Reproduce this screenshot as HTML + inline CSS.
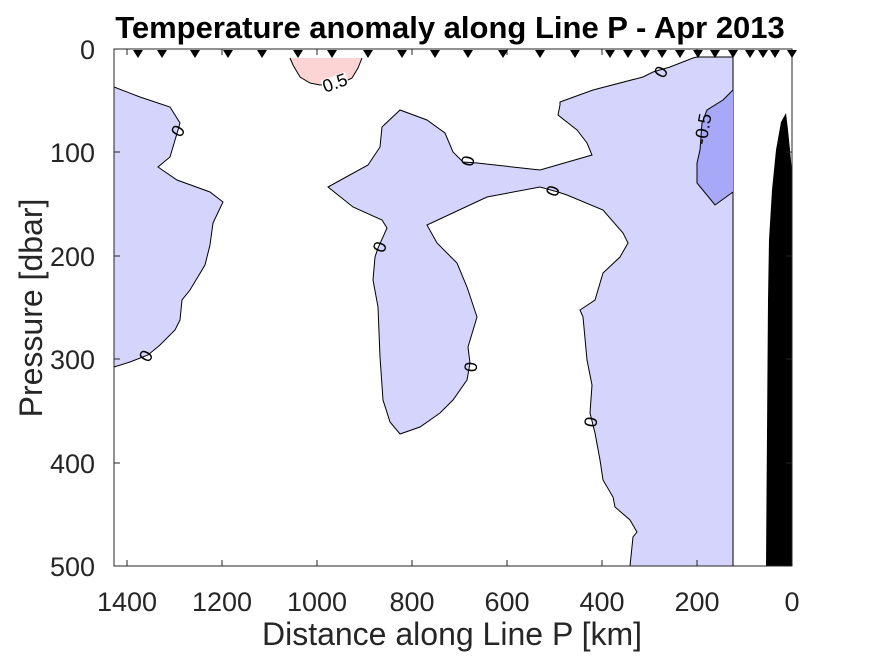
<!DOCTYPE html>
<html><head><style>body{margin:0;background:#fff}svg{display:block}</style></head><body>
<svg width="875" height="656" viewBox="0 0 875 656" xmlns="http://www.w3.org/2000/svg" font-family="Liberation Sans, sans-serif">
<rect width="875" height="656" fill="#fff"/>
<path fill="#d4d4fc" stroke="#000" stroke-width="1" d="M328,187 L353,207 L382,220 L387,228 L378,248 L375,257 L373,280 L378,307 L380,357 L383,400 L390,422 L400,434 L420,427 L440,413 L453,400 L467,380 L470,363 L468,347 L477,317 L467,287 L457,263 L437,243 L427,225 L487,197 L540,187 L558,192 L567,195 L603,210 L623,233 L628,243 L620,257 L603,273 L595,300 L580,310 L583,317 L587,360 L592,385 L590,413 L595,433 L600,460 L603,480 L613,497 L615,507 L630,520 L637,532 L633,537 L630,566 L733,566 L733,57 L697,57 L693,58 L670,67 L653,72 L643,77 L593,90 L560,102 L560,105 L558,115 L577,130 L587,143 L592,155 L540,170 L477,163 L463,162 L453,152 L445,133 L427,120 L400,110 L382,127 L380,147 L368,165 Z"/>
<path fill="#d4d4fc" stroke="#000" stroke-width="1" d="M114,87 L140,97 L170,107 L180,123 L178,130 L170,157 L158,167 L177,180 L210,192 L223,202 L213,223 L210,245 L205,265 L190,290 L182,300 L180,320 L175,330 L160,345 L148,355 L130,362 L114,367"/>
<path fill="#a8a8f8" stroke="#000" stroke-width="1" d="M733,90 L723,100 L707,110 L702,123 L700,150 L697,163 L697,183 L715,205 L733,192"/>
<path fill="#fcd4d4" stroke="#000" stroke-width="1" d="M290,58 L293,65 L300,77 L310,83 L320,85 L340,84 L352,78 L358,68 L362,58"/>
<path fill="#000" d="M766,566 L768,300 L769,240 L772,190 L776,150 L781,122 L786,113 L788,130 L790,150 L792,172 L792,566 Z"/>
<g font-size="18" fill="#000" text-anchor="middle">
<text transform="translate(178,131) rotate(-60)" y="6">0</text>
<text transform="translate(146,356) rotate(-60)" y="6">0</text>
<g transform="translate(335,83) rotate(-20)"><rect x="-13" y="-7" width="26" height="13" fill="#fff"/><text y="6">0.5</text></g>
<text transform="translate(661,72) rotate(-60)" y="6">0</text>
<text transform="translate(703,129) rotate(-80)" y="6">-0.5</text>
<text transform="translate(468,161) rotate(-75)" y="6">0</text>
<text transform="translate(553,191) rotate(-70)" y="6">0</text>
<text transform="translate(380,247) rotate(-70)" y="6">0</text>
<text transform="translate(471,367) rotate(-85)" y="6">0</text>
<text transform="translate(591,422) rotate(-80)" y="6">0</text>
</g>
<rect x="114" y="49" width="678" height="517" fill="none" stroke="#262626" stroke-width="1"/>
<g stroke="#262626" stroke-width="1">
<line x1="127" y1="566" x2="127" y2="560"/><line x1="222" y1="566" x2="222" y2="560"/><line x1="317" y1="566" x2="317" y2="560"/><line x1="412" y1="566" x2="412" y2="560"/><line x1="507" y1="566" x2="507" y2="560"/><line x1="602" y1="566" x2="602" y2="560"/><line x1="697" y1="566" x2="697" y2="560"/>
<line x1="127" y1="49" x2="127" y2="55"/><line x1="222" y1="49" x2="222" y2="55"/><line x1="317" y1="49" x2="317" y2="55"/><line x1="412" y1="49" x2="412" y2="55"/><line x1="507" y1="49" x2="507" y2="55"/><line x1="602" y1="49" x2="602" y2="55"/><line x1="697" y1="49" x2="697" y2="55"/>
<line x1="114" y1="152" x2="120" y2="152"/><line x1="114" y1="256" x2="120" y2="256"/><line x1="114" y1="359" x2="120" y2="359"/><line x1="114" y1="463" x2="120" y2="463"/>
<line x1="792" y1="152" x2="786" y2="152"/><line x1="792" y1="256" x2="786" y2="256"/><line x1="792" y1="359" x2="786" y2="359"/><line x1="792" y1="463" x2="786" y2="463"/>
</g>
<g fill="#000">
<path d="M133,50 L143,50 L138,58 Z"/><path d="M157,50 L167,50 L162,58 Z"/><path d="M190,50 L200,50 L195,58 Z"/><path d="M223,50 L233,50 L228,58 Z"/><path d="M257,50 L267,50 L262,58 Z"/><path d="M293,50 L303,50 L298,58 Z"/><path d="M327,50 L337,50 L332,58 Z"/><path d="M363,50 L373,50 L368,58 Z"/><path d="M397,50 L407,50 L402,58 Z"/><path d="M430,50 L440,50 L435,58 Z"/><path d="M463,50 L473,50 L468,58 Z"/><path d="M498,50 L508,50 L503,58 Z"/><path d="M535,50 L545,50 L540,58 Z"/><path d="M570,50 L580,50 L575,58 Z"/><path d="M605,50 L615,50 L610,58 Z"/><path d="M623,50 L633,50 L628,58 Z"/><path d="M640,50 L650,50 L645,58 Z"/><path d="M657,50 L667,50 L662,58 Z"/><path d="M675,50 L685,50 L680,58 Z"/><path d="M693,50 L703,50 L698,58 Z"/><path d="M710,50 L720,50 L715,58 Z"/><path d="M728,50 L738,50 L733,58 Z"/><path d="M745,50 L755,50 L750,58 Z"/><path d="M758,50 L768,50 L763,58 Z"/><path d="M770,50 L780,50 L775,58 Z"/><path d="M787,50 L797,50 L792,58 Z"/>
</g>
<g font-size="27" fill="#262626" text-anchor="middle">
<text x="127" y="611">1400</text><text x="222" y="611">1200</text><text x="317" y="611">1000</text><text x="412" y="611">800</text><text x="507" y="611">600</text><text x="602" y="611">400</text><text x="697" y="611">200</text><text x="792" y="611">0</text>
</g>
<g font-size="27" fill="#262626" text-anchor="end">
<text x="95" y="59">0</text><text x="95" y="162">100</text><text x="95" y="266">200</text><text x="95" y="369">300</text><text x="95" y="473">400</text><text x="95" y="576">500</text>
</g>
<text x="452" y="645" font-size="32" fill="#262626" text-anchor="middle">Distance along Line P [km]</text>
<text x="0" y="0" font-size="32" fill="#262626" text-anchor="middle" transform="translate(42,308) rotate(-90)">Pressure [dbar]</text>
<text x="450" y="38" font-size="31" font-weight="bold" fill="#000" text-anchor="middle">Temperature anomaly along Line P - Apr 2013</text>
</svg>
</body></html>
